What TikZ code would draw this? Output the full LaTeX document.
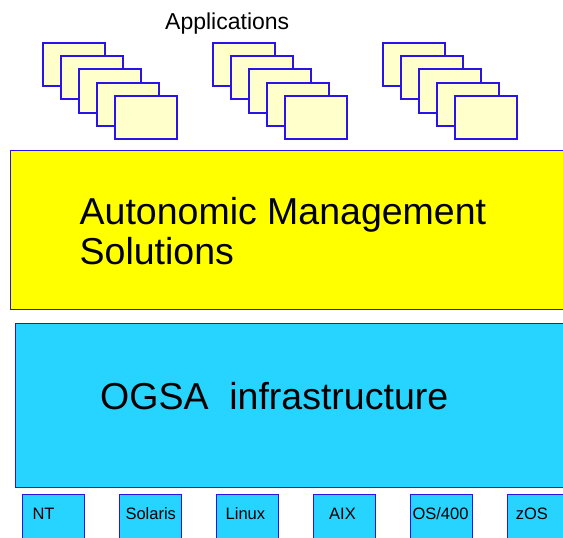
\documentclass[tikz,border=0pt]{standalone}
\usepackage{fontspec}
\setmainfont{Liberation Sans}
\definecolor{bord}{RGB}{40,20,230}
\definecolor{ylw}{RGB}{255,255,0}
\definecolor{cyn}{RGB}{38,212,255}
\definecolor{paper}{RGB}{255,255,204}
\begin{document}
\begin{tikzpicture}[x=1pt,y=-1pt,
  bigbox/.style={draw=bord, line width=1pt, anchor=north west, inner sep=0pt},
  osbox/.style={draw=bord, line width=1pt, fill=cyn, anchor=north west, inner sep=0pt,
    minimum width=62pt, minimum height=55pt},
  appwin/.style={draw=bord, line width=2pt, fill=paper, anchor=north west, inner sep=0pt,
    minimum width=61.5pt, minimum height=43.3pt},
  lbl/.style={anchor=base west, inner sep=0pt, text=black}]
\clip (0,0) rectangle (563,538);
% Applications
\node[lbl, font=\fontsize{23}{26}\selectfont] (apptitle) at (165,29.3) {Applications};
\foreach \s in {0,1,2}{
  \foreach \i in {0,...,4}{
    \node[appwin] (app-\s-\i) at ({42.3+170*\s+18*\i},{41.7+13.3*\i}) {};
  }
}
% Autonomic management
\node[bigbox, fill=ylw, minimum width=570pt, minimum height=159.3pt] (ams) at (10,150) {};
\node[lbl, font=\fontsize{37.5}{41}\selectfont] (amsA) at (79.5,224.3) {Autonomic Management};
\node[lbl, font=\fontsize{37.5}{41}\selectfont] (amsB) at (79.5,264.5) {Solutions};
% OGSA
\node[bigbox, fill=cyn, minimum width=570pt, minimum height=164pt] (ogsa) at (14.5,322.7) {};
\node[lbl, font=\fontsize{37.5}{41}\selectfont] (ogsat) at (100,409.3) {OGSA\ \ infrastructure};
% OS boxes
\foreach \n/\x/\t/\tx in {nt/22.3/NT/32.3, sol/119.3/Solaris/125.3, lin/216/Linux/225.5,
    aix/313/AIX/329, os4/409.7/OS\slash 400/412.3, zos/507/zOS/515.7}{
  \node[osbox] (\n) at (\x,494.3) {};
  \node[lbl, font=\fontsize{16.5}{19}\selectfont] (\n-t) at (\tx,519) {\t};
}
\end{tikzpicture}
\end{document}
